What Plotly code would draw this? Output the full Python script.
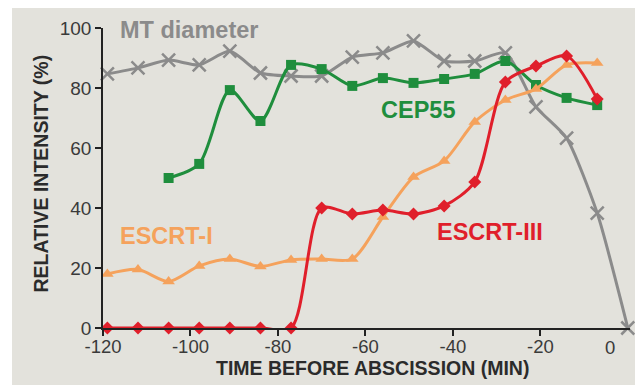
import plotly.graph_objects as go

# Time points (min before abscission)
t_all = [-119, -112, -105, -98, -91, -84, -77, -70, -63, -56, -49, -42, -35, -28, -21, -14, -7]
t_mt = t_all + [0]
t_cep = t_all[2:]

mt_diameter = [84.7, 86.7, 89.3, 87.7, 92.3, 85.0, 84.0, 84.0, 90.3, 91.7, 95.7, 89.0, 89.0, 91.7, 73.7, 63.3, 38.3, 0.0]
cep55 = [50.0, 54.7, 79.3, 69.0, 87.7, 86.3, 80.7, 83.3, 81.7, 83.0, 84.7, 89.0, 81.0, 76.7, 74.3]
escrt_i = [18.0, 19.5, 15.5, 20.7, 23.0, 20.5, 22.7, 23.0, 23.0, 37.0, 50.3, 55.7, 68.7, 76.0, 79.7, 87.7, 88.3]
escrt_iii = [0, 0, 0, 0, 0, 0, 0, 40.0, 38.0, 39.3, 38.0, 40.7, 48.7, 82.0, 87.3, 90.7, 76.3]

x_ticks = [-120, -100, -80, -60, -40, -20]
y_ticks = [0, 20, 40, 60, 80, 100]

GRAY = "#8b8b8b"
GREEN = "#1f8e3d"
ORANGE = "#f5a25c"
RED = "#e01f2b"
BG = "#e3e2dc"

fig = go.Figure()

fig.add_trace(go.Scatter(
    x=t_mt, y=mt_diameter, mode="lines+markers",
    line=dict(color=GRAY, width=3, shape="spline", smoothing=0.6),
    marker=dict(symbol="x-thin", size=13, line=dict(color=GRAY, width=2.5), color=GRAY),
    cliponaxis=False, showlegend=False))

fig.add_trace(go.Scatter(
    x=t_cep, y=cep55, mode="lines+markers",
    line=dict(color=GREEN, width=3, shape="spline", smoothing=0.8),
    marker=dict(symbol="square", size=10, color=GREEN),
    cliponaxis=False, showlegend=False))

fig.add_trace(go.Scatter(
    x=t_all, y=escrt_i, mode="lines+markers",
    line=dict(color=ORANGE, width=3, shape="spline", smoothing=0.8),
    marker=dict(symbol="triangle-up", size=11, color=ORANGE),
    cliponaxis=False, showlegend=False))

fig.add_trace(go.Scatter(
    x=t_all, y=escrt_iii, mode="lines+markers",
    line=dict(color=RED, width=3, shape="spline", smoothing=0.8),
    marker=dict(symbol="diamond", size=10, color=RED),
    cliponaxis=False, showlegend=False))

label_font = "Liberation Sans, Arial, sans-serif"

def lab(text, x, y, color, size=23.5):
    fig.add_annotation(text=f"<b>{text}</b>", x=x, y=y, xref="x", yref="y",
                       xanchor="left", yanchor="middle", showarrow=False,
                       font=dict(family=label_font, size=size, color=color))

lab("MT diameter", -116.5, 99.3, GRAY)
lab("CEP55", -57.0, 72.7, GREEN)
lab("ESCRT-I", -116.5, 30.7, ORANGE)
lab("ESCRT-III", -44.1, 32.0, RED)

# misplaced "0" tick label, as in the reference
fig.add_annotation(text="0", x=-4, y=0, xref="x", yref="y", yshift=-19,
                   showarrow=False, xanchor="center", yanchor="middle",
                   font=dict(family=label_font, size=18.5, color="#3a3a3a"))

# axis titles
fig.add_annotation(text="<b>TIME BEFORE ABSCISSION (MIN)</b>", x=0.512, y=0,
                   xref="paper", yref="paper", yshift=-40, showarrow=False,
                   xanchor="center", yanchor="middle",
                   font=dict(family=label_font, size=19.5, color="#2b2b2b"))
fig.add_annotation(text="<b>RELATIVE INTENSITY (%)</b>", x=0, y=0.515,
                   xref="paper", yref="paper", xshift=-63, showarrow=False,
                   textangle=-90, xanchor="center", yanchor="middle",
                   font=dict(family=label_font, size=19.5, color="#2b2b2b"))

fig.add_shape(type="rect", xref="paper", yref="paper",
              x0=-0.1727, x1=1.05, y0=-0.25, y1=1.1,
              fillcolor=BG, line=dict(width=0), layer="below")

fig.update_xaxes(
    range=[-120, 0.5], tickvals=x_ticks, ticktext=[str(v) for v in x_ticks],
    automargin=False,
    showgrid=False, zeroline=False, showline=True, linecolor="#222222", linewidth=1.6,
    ticks="outside", ticklen=6, tickwidth=1.6, tickcolor="#222222",
    ticklabelstandoff=-5,
    tickfont=dict(family=label_font, size=18.5, color="#3a3a3a"))

fig.update_yaxes(
    range=[0, 100], tickvals=y_ticks, automargin=False,
    showgrid=False, zeroline=False, showline=True, linecolor="#222222", linewidth=1.6,
    ticks="outside", ticklen=6, tickwidth=1.6, tickcolor="#222222",
    tickfont=dict(family=label_font, size=19, color="#3a3a3a"))

# page has an 8px body margin, so the figure is sized/offset to compensate
fig.update_layout(
    width=635, height=377,
    margin=dict(l=95, r=13, t=20, b=57),
    paper_bgcolor="white", plot_bgcolor=BG,
    showlegend=False)

fig.write_html("out.html")
